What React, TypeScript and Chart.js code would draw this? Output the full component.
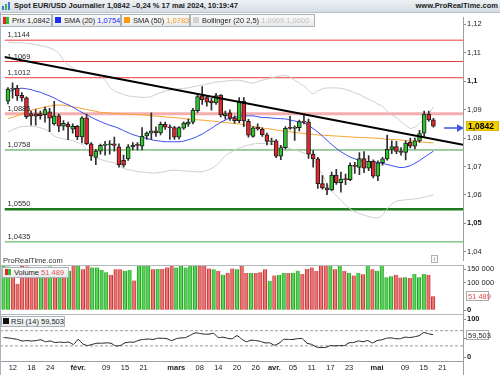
import React, { useEffect, useRef } from 'react';
import { Chart, registerables } from 'chart.js';

Chart.register(...registerables);

const FONT = "'Liberation Sans', Arial, Helvetica, sans-serif";

// ---------- data ----------
const dates = [
  '10 janv.', '11 janv.', '12 janv.', '15 janv.', '16 janv.', '17 janv.', '18 janv.', '19 janv.', '22 janv.', '23 janv.', '24 janv.', '25 janv.', '26 janv.', '29 janv.', '30 janv.', '31 janv.',
  '1 févr.', '2 févr.', '5 févr.', '6 févr.', '7 févr.', '8 févr.', '9 févr.', '12 févr.', '13 févr.', '14 févr.', '15 févr.', '16 févr.', '19 févr.', '20 févr.', '21 févr.', '22 févr.', '23 févr.', '26 févr.', '27 févr.', '28 févr.', '29 févr.',
  '1 mars', '4 mars', '5 mars', '6 mars', '7 mars', '8 mars', '11 mars', '12 mars', '13 mars', '14 mars', '15 mars', '18 mars', '19 mars', '20 mars', '21 mars', '22 mars', '25 mars', '26 mars', '27 mars', '28 mars', '29 mars',
  '1 avr.', '2 avr.', '3 avr.', '4 avr.', '5 avr.', '8 avr.', '9 avr.', '10 avr.', '11 avr.', '12 avr.', '15 avr.', '16 avr.', '17 avr.', '18 avr.', '19 avr.', '22 avr.', '23 avr.', '24 avr.', '25 avr.', '26 avr.', '29 avr.', '30 avr.',
  '1 mai', '2 mai', '3 mai', '6 mai', '7 mai', '8 mai', '9 mai', '10 mai', '13 mai', '14 mai', '15 mai', '16 mai', '17 mai',
];

const opens = [
  1.0930, 1.0972, 1.0976, 1.0950, 1.0941, 1.0886, 1.0885, 1.0886, 1.0882, 1.0892,
  1.0850, 1.0878, 1.0842, 1.0848, 1.0831, 1.0841, 1.0804, 1.0871, 1.0780, 1.0732,
  1.0754, 1.0774, 1.0776, 1.0780, 1.0769, 1.0722, 1.0727, 1.0769, 1.0777, 1.0771,
  1.0807, 1.0817, 1.0825, 1.0818, 1.0848, 1.0839, 1.0837, 1.0803, 1.0835, 1.0849,
  1.0856, 1.0896, 1.0948, 1.0942, 1.0931, 1.0923, 1.0951, 1.0879, 1.0889, 1.0871,
  1.0861, 1.0930, 1.0859, 1.0806, 1.0838, 1.0831, 1.0811, 1.0787, 1.0790, 1.0736,
  1.0766, 1.0836, 1.0834, 1.0836, 1.0858, 1.0857, 1.0743, 1.0727, 1.0640, 1.0625,
  1.0618, 1.0670, 1.0643, 1.0657, 1.0654, 1.0704, 1.0697, 1.0728, 1.0694, 1.0718,
  1.0666, 1.0713, 1.0727, 1.0760, 1.0770, 1.0753, 1.0749, 1.0785, 1.0771, 1.0790,
  1.0817, 1.0884, 1.0864,
];
const highs = [
  1.0977, 1.0994, 1.0985, 1.0960, 1.0945, 1.0895, 1.0900, 1.0895, 1.0909, 1.0904,
  1.0929, 1.0884, 1.0861, 1.0856, 1.0850, 1.0845, 1.0875, 1.0884, 1.0784, 1.0760,
  1.0779, 1.0788, 1.0791, 1.0803, 1.0780, 1.0740, 1.0777, 1.0784, 1.0784, 1.0837,
  1.0822, 1.0889, 1.0839, 1.0856, 1.0856, 1.0846, 1.0841, 1.0840, 1.0857, 1.0867,
  1.0904, 1.0952, 1.0981, 1.0946, 1.0940, 1.0957, 1.0953, 1.0895, 1.0899, 1.0878,
  1.0942, 1.0942, 1.0866, 1.0840, 1.0850, 1.0836, 1.0817, 1.0800, 1.0795, 1.0774,
  1.0840, 1.0876, 1.0843, 1.0863, 1.0885, 1.0867, 1.0756, 1.0732, 1.0668, 1.0640,
  1.0680, 1.0690, 1.0680, 1.0673, 1.0713, 1.0715, 1.0749, 1.0752, 1.0738, 1.0723,
  1.0720, 1.0732, 1.0810, 1.0790, 1.0788, 1.0766, 1.0790, 1.0800, 1.0800, 1.0827,
  1.0895, 1.0895, 1.0869,
];
const lows = [
  1.0920, 1.0940, 1.0932, 1.0930, 1.0868, 1.0845, 1.0845, 1.0866, 1.0856, 1.0822,
  1.0845, 1.0822, 1.0828, 1.0794, 1.0817, 1.0794, 1.0783, 1.0777, 1.0721, 1.0706,
  1.0743, 1.0740, 1.0743, 1.0754, 1.0698, 1.0698, 1.0721, 1.0758, 1.0758, 1.0758,
  1.0795, 1.0795, 1.0806, 1.0811, 1.0830, 1.0795, 1.0795, 1.0796, 1.0830, 1.0841,
  1.0850, 1.0890, 1.0918, 1.0912, 1.0898, 1.0918, 1.0874, 1.0866, 1.0862, 1.0852,
  1.0854, 1.0840, 1.0803, 1.0803, 1.0828, 1.0806, 1.0776, 1.0777, 1.0731, 1.0724,
  1.0762, 1.0830, 1.0792, 1.0825, 1.0850, 1.0728, 1.0698, 1.0623, 1.0620, 1.0601,
  1.0615, 1.0637, 1.0610, 1.0636, 1.0650, 1.0676, 1.0671, 1.0678, 1.0685, 1.0660,
  1.0650, 1.0705, 1.0722, 1.0745, 1.0745, 1.0740, 1.0723, 1.0765, 1.0762, 1.0785,
  1.0806, 1.0858, 1.0838,
];
const closes = [
  1.0972, 1.0976, 1.0948, 1.0941, 1.0875, 1.0877, 1.0877, 1.0879, 1.0900, 1.0870,
  1.0878, 1.0842, 1.0852, 1.0839, 1.0841, 1.0805, 1.0871, 1.0780, 1.0737, 1.0754,
  1.0774, 1.0777, 1.0780, 1.0774, 1.0706, 1.0705, 1.0769, 1.0775, 1.0774, 1.0807,
  1.0817, 1.0825, 1.0818, 1.0848, 1.0838, 1.0836, 1.0803, 1.0837, 1.0853, 1.0856,
  1.0898, 1.0946, 1.0935, 1.0926, 1.0923, 1.0949, 1.0881, 1.0886, 1.0869, 1.0861,
  1.0930, 1.0860, 1.0810, 1.0836, 1.0832, 1.0812, 1.0788, 1.0790, 1.0736, 1.0766,
  1.0834, 1.0834, 1.0837, 1.0858, 1.0856, 1.0743, 1.0727, 1.0640, 1.0625, 1.0618,
  1.0670, 1.0643, 1.0656, 1.0654, 1.0704, 1.0700, 1.0728, 1.0694, 1.0718, 1.0666,
  1.0713, 1.0727, 1.0760, 1.0770, 1.0753, 1.0749, 1.0782, 1.0771, 1.0790, 1.0816,
  1.0884, 1.0864, 1.0842,
];

const volumes = [
  172000, 160000, 155000, 97000, 172000, 160000, 150000, 135000, 140000, 155000,
  160000, 150000, 140000, 135000, 145000, 172000, 172000, 150000, 162000, 157000,
  157000, 147000, 139000, 130000, 150000, 150000, 145000, 147000, 109000, 162000,
  172000, 162000, 150000, 151000, 151000, 157000, 172000, 157000, 172000, 157000,
  172000, 172000, 172000, 172000, 153000, 150000, 144000, 130000, 136000, 153000,
  150000, 172000, 136000, 136000, 136000, 139000, 150000, 108000, 127000, 130000,
  136000, 136000, 136000, 145000, 133000, 151000, 157000, 144000, 172000, 172000,
  172000, 150000, 172000, 144000, 136000, 127000, 136000, 132000, 172000, 150000,
  145000, 172000, 121000, 125000, 130000, 120000, 121000, 118000, 133000, 121000,
  133000, 130000, 51489,
];

const sma20 = [
  1.0961, 1.0968, 1.0973, 1.0975, 1.0973, 1.0970, 1.0965, 1.0961, 1.0954, 1.0948,
  1.0941, 1.0932, 1.0924, 1.0917, 1.0909, 1.0899, 1.0890, 1.0882, 1.0873, 1.0865,
  1.0858, 1.0851, 1.0845, 1.0840, 1.0834, 1.0826, 1.0819, 1.0812, 1.0807, 1.0802,
  1.0799, 1.0794, 1.0791, 1.0789, 1.0787, 1.0787, 1.0787, 1.0787, 1.0789, 1.0794,
  1.0799, 1.0806, 1.0814, 1.0824, 1.0834, 1.0845, 1.0855, 1.0863, 1.0870, 1.0873,
  1.0877, 1.0878, 1.0878, 1.0878, 1.0875, 1.0872, 1.0872, 1.0870, 1.0869, 1.0868,
  1.0867, 1.0863, 1.0860, 1.0856, 1.0853, 1.0845, 1.0833, 1.0821, 1.0807, 1.0792,
  1.0777, 1.0764, 1.0752, 1.0742, 1.0733, 1.0727, 1.0722, 1.0718, 1.0716, 1.0715,
  1.0714, 1.0711, 1.0707, 1.0703, 1.0699, 1.0696, 1.0698, 1.0703, 1.0711, 1.0721,
  1.0732, 1.0743, 1.0754,
];
const sma50 = [
  1.0868, 1.0873, 1.0878, 1.0885, 1.0892, 1.0897, 1.0902, 1.0905, 1.0909, 1.0912,
  1.0915, 1.0916, 1.0915, 1.0913, 1.0910, 1.0907, 1.0904, 1.0900, 1.0897, 1.0894,
  1.0890, 1.0889, 1.0888, 1.0886, 1.0885, 1.0884, 1.0884, 1.0883, 1.0882, 1.0881,
  1.0880, 1.0878, 1.0877, 1.0876, 1.0874, 1.0873, 1.0872, 1.0870, 1.0868, 1.0867,
  1.0865, 1.0864, 1.0863, 1.0861, 1.0860, 1.0858, 1.0856, 1.0855, 1.0853, 1.0851,
  1.0850, 1.0847, 1.0845, 1.0841, 1.0838, 1.0835, 1.0833, 1.0831, 1.0828, 1.0826,
  1.0823, 1.0822, 1.0819, 1.0818, 1.0816, 1.0814, 1.0813, 1.0811, 1.0810, 1.0809,
  1.0808, 1.0807, 1.0806, 1.0805, 1.0804, 1.0803, 1.0802, 1.0801, 1.0801, 1.0800,
  1.0799, 1.0797, 1.0796, 1.0795, 1.0794, 1.0793, 1.0791, 1.0790, 1.0789, 1.0787,
  1.0785, 1.0784, 1.0783,
];
const bollUpper = [
  1.1137, 1.1135, 1.1135, 1.1135, 1.1133, 1.1132, 1.1128, 1.1125, 1.1122, 1.1117,
  1.1110, 1.1098, 1.1074, 1.1057, 1.1047, 1.1037, 1.1030, 1.1027, 1.1024, 1.1020,
  1.1017, 1.1003, 1.0980, 1.0966, 1.0959, 1.0953, 1.0948, 1.0946, 1.0944, 1.0943,
  1.0943, 1.0946, 1.0953, 1.0959, 1.0965, 1.0968, 1.0971, 1.0973, 1.0975, 1.0976,
  1.0980, 1.0983, 1.0986, 1.0990, 1.0993, 1.0997, 1.0998, 1.1000, 1.1002, 1.1003,
  1.1003, 1.1000, 1.0995, 1.0993, 1.0998, 1.1003, 1.1007, 1.1012, 1.1015, 1.1019,
  1.1020, 1.1014, 1.1003, 1.0993, 1.0983, 1.0966, 1.0956, 1.0966, 1.0973, 1.0976,
  1.0976, 1.0976, 1.0975, 1.0971, 1.0966, 1.0959, 1.0953, 1.0944, 1.0937, 1.0929,
  1.0919, 1.0912, 1.0895, 1.0882, 1.0872, 1.0858, 1.0845, 1.0834, 1.0838, 1.0851,
  1.0868, 1.0885, 1.0909,
];
const bollLower = [
  1.0821, 1.0829, 1.0836, 1.0840, 1.0841, 1.0841, 1.0840, 1.0836, 1.0831, 1.0821,
  1.0807, 1.0801, 1.0797, 1.0794, 1.0791, 1.0784, 1.0777, 1.0760, 1.0740, 1.0731,
  1.0725, 1.0720, 1.0716, 1.0713, 1.0703, 1.0693, 1.0689, 1.0686, 1.0682, 1.0681,
  1.0679, 1.0677, 1.0677, 1.0679, 1.0682, 1.0686, 1.0687, 1.0686, 1.0684, 1.0684,
  1.0682, 1.0681, 1.0682, 1.0686, 1.0693, 1.0703, 1.0720, 1.0738, 1.0748, 1.0757,
  1.0765, 1.0770, 1.0775, 1.0779, 1.0781, 1.0781, 1.0780, 1.0779, 1.0776, 1.0772,
  1.0768, 1.0763, 1.0758, 1.0753, 1.0747, 1.0743, 1.0726, 1.0699, 1.0672, 1.0639,
  1.0615, 1.0598, 1.0581, 1.0564, 1.0551, 1.0541, 1.0534, 1.0529, 1.0524, 1.0520,
  1.0519, 1.0530, 1.0551, 1.0568, 1.0578, 1.0581, 1.0583, 1.0584, 1.0586, 1.0588,
  1.0592, 1.0596, 1.0600,
];
const rsi14 = [
  52, 51, 49, 47, 43, 44, 43, 44, 46, 41,
  43, 39, 40, 39, 40, 34, 47, 35, 31, 34,
  37, 37, 38, 37, 30, 31, 38, 40, 40, 45,
  47, 48, 47, 50, 50, 49, 44, 49, 51, 52,
  58, 64, 63, 61, 61, 63, 52, 53, 50, 49,
  57, 48, 41, 45, 44, 42, 38, 38, 32, 37,
  47, 47, 47, 49, 49, 37, 34, 27, 26, 26,
  31, 30, 31, 31, 38, 39, 43, 41, 44, 38,
  44, 46, 50, 51, 49, 49, 53, 52, 54, 57,
  65, 62, 59.503,
];

// horizontal levels drawn on the price panel
const levelValues = [1.1144, 1.1069, 1.1012, 1.0885, 1.0758, 1.0550, 1.0435];
const levelColors = ['#ec3b3b', '#ec3b3b', '#ec3b3b', 'rgba(238,120,120,0.6)', '#3c9c3c', '#1d7a1d', '#45aa45'];
const levelWidths = [1, 1, 1, 3, 1, 2.5, 1];

// trend line and arrow (index, price)
const trendX = [-0.75, 98.4];
const trendY = [1.1085, 1.0776];
const arrowX = [94.3, 97.6];
const arrowY = [1.0835, 1.0835];

// axes
const xMin = -0.75;
const xMax = 98.4;
const priceMin = 1.03695;
const priceMax = 1.12237;
const priceTicks = [1.04, 1.05, 1.06, 1.07, 1.08, 1.09, 1.10, 1.11, 1.12];
const priceBoldTicks = [1.05, 1.10];
const volMin = -13500;
const volMax = 165700;
const volumeTicks = [0, 100000, 150000];
const volumeBoldTicks = [0];
const rsiMin = -9.7;
const rsiMax = 113.9;
const rsiTicks = [0, 50, 100];
const rsiBoldTicks = [0, 100];
const rsiBands = [70, 30];
const xTickIndex = [2, 6, 10, 16, 22, 26, 30, 37, 42, 46, 50, 54, 58, 62, 66, 70, 74, 80, 86, 90, 94];
const xTickLabels = ['12', '18', '24', 'févr.', '09', '15', '21', 'mars', '08', '14', '20', '26', 'avr.', '05', '11', '17', '23', 'mai', '09', '15', '21'];
const monthLabels = ['févr.', 'mars', 'avr.', 'mai'];

// ---------- styling ----------
const GREEN = '#2ec42e';
const RED = '#e3262c';
const VOL_GREEN = '#56d456';
const VOL_GREEN_EDGE = '#26a326';
const VOL_RED = '#ea7474';
const VOL_RED_EDGE = '#c93636';
const SMA20_COLOR = '#3447ee';
const SMA50_COLOR = '#f7a02a';
const BOLL_COLOR = '#cdcdcd';

const last = closes.length - 1;

function fmtPrice(v: number) {
  return String(parseFloat(v.toFixed(4))).replace('.', ',');
}
function fmt4(v: number) {
  return v.toFixed(4).replace('.', ',');
}
function fmtVol(v: number) {
  if (v === 0) return '0';
  const k = Math.floor(v / 1000);
  const r = Math.round(v % 1000);
  return `${k} ${String(r).padStart(3, '0')}`;
}
function fmtRsi(v: number) {
  return String(v);
}

function yAxis(min: number, max: number, ticks: number[], fmt: (v: number) => string, bold: number[]) {
  return {
    type: 'linear',
    position: 'right',
    min,
    max,
    afterBuildTicks: (s: any) => {
      s.ticks = ticks.map((v) => ({ value: v }));
    },
    afterFit: (s: any) => {
      s.width = 37;
      s.paddingTop = 0;
      s.paddingBottom = 0;
    },
    ticks: {
      autoSkip: false,
      padding: 1,
      color: '#1a1a1a',
      callback: (v: any) => fmt(Number(v)),
      font: (c: any) => ({
        family: FONT,
        size: 7.5,
        weight: c.tick && bold.includes(c.tick.value) ? 'bold' : 'normal',
      }),
    },
    grid: { drawOnChartArea: false, drawTicks: true, tickLength: 3, color: '#8a8a8a' },
    border: { display: true, color: '#9aa0a6' },
  };
}

// an x axis that takes part in the layout but draws nothing
const silentX = {
  type: 'linear',
  position: 'bottom',
  min: xMin,
  max: xMax,
  offset: false,
  display: true,
  afterFit: (s: any) => {
    s.height = 0;
    s.paddingLeft = 0;
    s.paddingRight = 0;
  },
  ticks: { display: false },
  grid: { display: false, drawTicks: false, offset: false },
  border: { display: false },
};

function tagPlugin(id: string, scaleId: string, value: number, text: string, o: any) {
  return {
    id,
    afterDraw(chart: any) {
      const s = chart.scales[scaleId];
      const y = Math.round(s.getPixelForValue(value));
      const ctx = chart.ctx;
      const x0 = chart.chartArea.right + 3;
      const h = o.h;
      ctx.save();
      ctx.fillStyle = o.bg;
      ctx.fillRect(x0, y - h / 2, o.w, h);
      if (o.border) {
        ctx.strokeStyle = o.border;
        ctx.lineWidth = 1;
        ctx.strokeRect(x0 + 0.5, y - h / 2 + 0.5, o.w - 1, h - 1);
      }
      ctx.font = `${o.bold ? 'bold ' : ''}${o.size}px ${FONT}`;
      ctx.fillStyle = o.color;
      ctx.textBaseline = 'middle';
      ctx.textAlign = 'left';
      ctx.fillText(text, x0 + 2, y + 0.5);
      ctx.restore();
    },
  };
}

const levelLabelPlugin = {
  id: 'levelLabels',
  afterDatasetsDraw(chart: any) {
    const ys = chart.scales.y;
    const ctx = chart.ctx;
    ctx.save();
    ctx.font = `7.5px ${FONT}`;
    ctx.fillStyle = '#2a2a2a';
    ctx.textBaseline = 'bottom';
    ctx.textAlign = 'left';
    levelValues.forEach((v) => {
      const y = ys.getPixelForValue(v);
      ctx.fillText(fmt4(v), chart.chartArea.left + 3, y - 1);
    });
    ctx.restore();
  },
};

const baseOptions = {
  responsive: false,
  animation: false,
  events: [],
  layout: { padding: 0 },
  plugins: { legend: { display: false }, tooltip: { enabled: false }, title: { display: false } },
};

const idx = dates.map((_, i) => i);
const isUp = (i: number) => closes[i] >= opens[i];

export default function App() {
  const mainRef = useRef<HTMLCanvasElement>(null);
  const volRef = useRef<HTMLCanvasElement>(null);
  const rsiRef = useRef<HTMLCanvasElement>(null);

  useEffect(() => {
    const charts: Chart[] = [];

    const levelSets = levelValues.map((v, k) => ({
      type: 'line',
      data: [{ x: xMin, y: v }, { x: xMax, y: v }],
      borderColor: levelColors[k],
      borderWidth: levelWidths[k],
      pointRadius: 0,
      order: 9,
    }));

    const lineSet = (vals: number[], color: string, order: number, width = 1) => ({
      type: 'line',
      data: idx.map((i) => ({ x: i, y: vals[i] })),
      borderColor: color,
      borderWidth: width,
      pointRadius: 0,
      tension: 0.25,
      order,
    });

    charts.push(
      new Chart(mainRef.current as HTMLCanvasElement, {
        type: 'bar',
        data: {
          datasets: [
            {
              type: 'line',
              data: [{ x: arrowX[0], y: arrowY[0] }, { x: arrowX[1], y: arrowY[1] }],
              borderColor: '#3a55e6',
              borderWidth: 1.5,
              pointRadius: [0, 4.5],
              pointStyle: 'triangle',
              pointRotation: 90,
              pointBackgroundColor: '#3a55e6',
              pointBorderWidth: 0,
              order: -1,
            },
            {
              type: 'line',
              data: [{ x: trendX[0], y: trendY[0] }, { x: trendX[1], y: trendY[1] }],
              borderColor: '#000000',
              borderWidth: 2,
              pointRadius: 0,
              order: 0,
            },
            {
              type: 'bar',
              data: idx.map((i) => ({ x: i, y: [opens[i], closes[i]] })),
              backgroundColor: idx.map((i) => (isUp(i) ? GREEN : RED)),
              borderColor: '#1e1e1e',
              borderWidth: 1,
              borderSkipped: false,
              barThickness: 4,
              minBarLength: 1,
              grouped: false,
              order: 1,
            },
            {
              type: 'bar',
              data: idx.map((i) => ({ x: i, y: [lows[i], highs[i]] })),
              backgroundColor: '#2e2e2e',
              barThickness: 1,
              grouped: false,
              order: 2,
            },
            lineSet(sma20, SMA20_COLOR, 3),
            lineSet(sma50, SMA50_COLOR, 4),
            lineSet(bollUpper, BOLL_COLOR, 5),
            lineSet(bollLower, BOLL_COLOR, 5),
            ...levelSets,
          ] as any,
        },
        options: {
          ...baseOptions,
          scales: {
            x: silentX,
            y: yAxis(priceMin, priceMax, priceTicks, fmtPrice, priceBoldTicks),
          },
        } as any,
        plugins: [
          levelLabelPlugin,
          tagPlugin('priceTag', 'y', closes[last], fmt4(closes[last]), {
            bg: '#f2d000', border: '#d8b800', color: '#000', bold: true, size: 8.5, w: 33, h: 10,
          }),
        ],
      })
    );

    charts.push(
      new Chart(volRef.current as HTMLCanvasElement, {
        type: 'bar',
        data: {
          datasets: [
            {
              type: 'bar',
              data: idx.map((i) => ({ x: i, y: volumes[i] })),
              backgroundColor: idx.map((i) => (isUp(i) ? VOL_GREEN : VOL_RED)),
              borderColor: idx.map((i) => (isUp(i) ? VOL_GREEN_EDGE : VOL_RED_EDGE)),
              borderWidth: { left: 1, right: 1, top: 0, bottom: 0 },
              barThickness: 3.6,
              grouped: false,
            },
          ] as any,
        },
        options: {
          ...baseOptions,
          scales: {
            x: silentX,
            y: yAxis(volMin, volMax, volumeTicks, fmtVol, volumeBoldTicks),
          },
        } as any,
        plugins: [
          tagPlugin('volTag', 'y', volumes[last], fmtVol(volumes[last]), {
            bg: '#ffffff', border: '#a8a8a8', color: '#e05050', bold: false, size: 7.5, w: 23, h: 10,
          }),
        ],
      })
    );

    charts.push(
      new Chart(rsiRef.current as HTMLCanvasElement, {
        type: 'line',
        data: {
          datasets: [
            {
              type: 'line',
              data: idx.map((i) => ({ x: i, y: rsi14[i] })),
              borderColor: '#1a1a1a',
              borderWidth: 1,
              pointRadius: 0,
              tension: 0.2,
              order: 0,
            },
            ...rsiBands.map((b) => ({
              type: 'line',
              data: [{ x: xMin, y: b }, { x: xMax, y: b }],
              borderColor: '#9a9a9a',
              borderWidth: 1,
              borderDash: [3, 2],
              pointRadius: 0,
              order: 1,
            })),
          ] as any,
        },
        options: {
          ...baseOptions,
          scales: {
            x: {
              type: 'linear',
              position: 'bottom',
              min: xMin,
              max: xMax,
              offset: false,
              afterBuildTicks: (s: any) => {
                s.ticks = xTickIndex.map((v) => ({ value: v }));
              },
              afterFit: (s: any) => {
                s.height = 14;
                s.paddingLeft = 0;
                s.paddingRight = 0;
              },
              ticks: {
                autoSkip: false,
                maxRotation: 0,
                padding: 2,
                color: '#1a1a1a',
                callback: (v: any) => {
                  const k = xTickIndex.indexOf(Number(v));
                  return k >= 0 ? xTickLabels[k] : '';
                },
                font: (c: any) => ({
                  family: FONT,
                  size: 7.5,
                  weight: c.tick && monthLabels.includes(c.tick.label) ? 'bold' : 'normal',
                }),
              },
              grid: { display: false, drawTicks: false },
              border: { display: true, color: '#9aa0a6' },
            },
            y: yAxis(rsiMin, rsiMax, rsiTicks, fmtRsi, rsiBoldTicks),
          },
        } as any,
        plugins: [
          tagPlugin('rsiTag', 'y', rsi14[last], rsi14[last].toFixed(3).replace('.', ','), {
            bg: '#ffffff', border: '#a8a8a8', color: '#2a2a2a', bold: false, size: 7.5, w: 23, h: 10,
          }),
        ],
      })
    );

    return () => charts.forEach((c) => c.destroy());
  }, []);

  const legendBox = (left: number, top: number, width: number, height: number): React.CSSProperties => ({
    position: 'absolute',
    left,
    top,
    width,
    height,
    boxSizing: 'border-box',
    border: '1px solid #aab2b9',
    background: 'linear-gradient(#fbfbfb, #e8e9ea)',
    fontSize: 7.5,
    lineHeight: `${height - 2}px`,
    whiteSpace: 'nowrap',
    overflow: 'hidden',
    color: '#1e1e1e',
    paddingLeft: 2,
  });
  const sq = (color: string, w = 6, h = 6): React.CSSProperties => ({
    display: 'inline-block',
    width: w,
    height: h,
    background: color,
    verticalAlign: 'middle',
    marginRight: 3,
    marginTop: -2,
  });

  return (
    <div
      style={{
        position: 'absolute',
        left: 0,
        top: 0,
        width: 500,
        height: 375,
        overflow: 'hidden',
        background: '#ffffff',
        fontFamily: FONT,
      }}
    >
      {/* title bar */}
      <div
        style={{
          position: 'absolute',
          left: 0,
          top: 0,
          width: 500,
          height: 13,
          boxSizing: 'border-box',
          background: 'linear-gradient(#eef2f5, #d5dde4)',
          borderBottom: '1px solid #b7c2cb',
        }}
      >
        <div style={{ position: 'absolute', left: 2, top: 2, width: 9, height: 8 }}>
          <span style={{ position: 'absolute', left: 0, top: 4, width: 2, height: 4, background: '#3a7bd5' }} />
          <span style={{ position: 'absolute', left: 3, top: 2, width: 2, height: 6, background: '#3fb54a' }} />
          <span style={{ position: 'absolute', left: 6, top: 0, width: 2, height: 8, background: '#3a7bd5' }} />
        </div>
        <div
          style={{
            position: 'absolute',
            left: 14,
            top: 0,
            fontSize: 7.5,
            fontWeight: 'bold',
            lineHeight: '12px',
            color: '#1c1c1c',
            whiteSpace: 'nowrap',
          }}
        >
          Spot EUR/USD Journalier 1,0842 –0,24 % 17 mai 2024, 10:19:47
        </div>
        <div
          style={{
            position: 'absolute',
            right: 2,
            top: 0,
            fontSize: 7.5,
            fontWeight: 'bold',
            lineHeight: '12px',
            color: '#1c1c1c',
            whiteSpace: 'nowrap',
          }}
        >
          www.ProRealTime.com
        </div>
      </div>

      <canvas ref={mainRef} width={500} height={252} style={{ position: 'absolute', left: 0, top: 13, width: 500, height: 252 }} />
      <canvas ref={volRef} width={500} height={49} style={{ position: 'absolute', left: 0, top: 265, width: 500, height: 49 }} />
      <canvas ref={rsiRef} width={500} height={61} style={{ position: 'absolute', left: 0, top: 314, width: 500, height: 61 }} />

      {/* panel separators and borders */}
      <div style={{ position: 'absolute', left: 0, top: 265, width: 463, height: 1, background: '#b3b8bd' }} />
      <div style={{ position: 'absolute', left: 0, top: 314, width: 463, height: 1, background: '#b3b8bd' }} />
      <div style={{ position: 'absolute', left: 0, top: 13, width: 1, height: 362, background: '#a6b3be' }} />
      <div style={{ position: 'absolute', left: 463, top: 361, width: 1, height: 14, background: '#9aa0a6' }} />

      {/* price legend row */}
      <div style={legendBox(0, 14, 52, 13)}>
        <span style={{ ...sq(RED, 3, 7), marginRight: 0 }} />
        <span style={sq(GREEN, 3, 7)} />
        Prix {fmt4(closes[last])}
      </div>
      <div style={legendBox(52, 14, 69, 13)}>
        <span style={sq('#1f2ff0')} />
        SMA (20) <span style={{ color: '#2a2aff' }}>{fmt4(sma20[last])}</span>
      </div>
      <div style={legendBox(121, 14, 69, 13)}>
        <span style={sq('#ff9a10')} />
        SMA (50) <span style={{ color: '#f39a1c' }}>{fmt4(sma50[last])}</span>
      </div>
      <div style={legendBox(190, 14, 125, 13)}>
        <span style={sq('#d2d2d2')} />
        Bollinger (20 2,5) <span style={{ color: '#c2c2c2' }}>{fmt4(bollUpper[last])} {fmt4(bollLower[last])}</span>
      </div>

      {/* watermark and info icon */}
      <div style={{ position: 'absolute', left: 3, top: 256, fontSize: 7.5, lineHeight: '9px', color: '#333' }}>ProRealTime.com</div>
      <div
        style={{
          position: 'absolute',
          left: 431,
          top: 255,
          width: 7,
          height: 8,
          boxSizing: 'border-box',
          border: '1px solid #b0b0b0',
          fontSize: 6,
          lineHeight: '6px',
          textAlign: 'center',
          color: '#777',
          background: '#fafafa',
        }}
      >
        i
      </div>

      {/* volume legend */}
      <div style={legendBox(2, 267, 67, 11)}>
        <span style={{ ...sq(RED, 3, 6), marginRight: 0 }} />
        <span style={sq(GREEN, 3, 6)} />
        Volume <span style={{ color: '#e05555' }}>{fmtVol(volumes[last])}</span>
      </div>

      {/* rsi legend */}
      <div style={{ ...legendBox(1, 316, 64, 11), paddingLeft: 1 }}>
        <span style={{ ...sq('#111', 6, 6), marginRight: 2 }} />
        RSI (14) {rsi14[last].toFixed(3).replace('.', ',')}
      </div>
    </div>
  );
}
